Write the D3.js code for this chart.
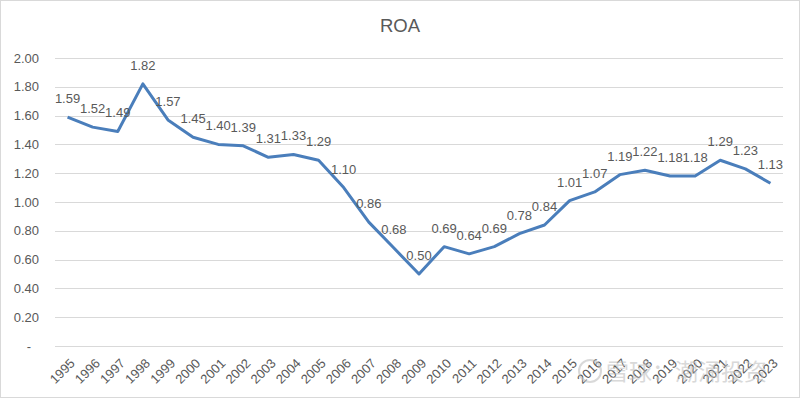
<!DOCTYPE html>
<html><head><meta charset="utf-8">
<script src="https://cdn.jsdelivr.net/npm/d3@7"></script>
<style>html,body{margin:0;padding:0;background:#fff;}svg{display:block;}</style>
</head><body>
<svg id="c" width="800" height="398"></svg>
<script>
const years = ["1995","1996","1997","1998","1999","2000","2001","2002","2003","2004","2005","2006","2007","2008","2009","2010","2011","2012","2013","2014","2015","2016","2017","2018","2019","2020","2021","2022","2023"];
const roa = [1.59,1.52,1.49,1.82,1.57,1.45,1.40,1.39,1.31,1.33,1.29,1.10,0.86,0.68,0.50,0.69,0.64,0.69,0.78,0.84,1.01,1.07,1.19,1.22,1.18,1.18,1.29,1.23,1.13];
const yTicks = [0,0.2,0.4,0.6,0.8,1.0,1.2,1.4,1.6,1.8,2.0];
const title = "ROA";

const svg = d3.select("#c");
const W = 800, H = 398;
const m = {left:55, right:17, top:58, bottom:52};
const font = "'Liberation Sans', Arial, sans-serif";
const txt = "#595959";

svg.append("rect").attr("x",0.5).attr("y",0.5).attr("width",W-1).attr("height",H-1)
  .attr("fill","#fff").attr("stroke","#d9d9d9");

const x = d3.scaleBand().domain(years).range([m.left, W-m.right]);
const y = d3.scaleLinear().domain([0,2]).range([H-m.bottom, m.top]);

// gridlines
svg.append("g").selectAll("line").data(yTicks).join("line")
  .attr("x1",m.left).attr("x2",W-m.right)
  .attr("y1",d=>Math.round(y(d))+0.5).attr("y2",d=>Math.round(y(d))+0.5)
  .attr("stroke","#d9d9d9").attr("stroke-width",1);

// y axis
const ya = svg.append("g").attr("transform",`translate(${m.left},0)`)
  .call(d3.axisLeft(y).tickValues(yTicks).tickSize(0).tickPadding(16)
    .tickFormat(d=> d===0 ? "-" : d.toFixed(2)));
ya.select(".domain").remove();
ya.selectAll("text").attr("font-family",font).attr("font-size",13).attr("fill",txt);
ya.selectAll(".tick").filter(d=>d===0).select("text").attr("dx",-8);

// x axis
const xa = svg.append("g").attr("transform",`translate(0,${H-m.bottom})`)
  .call(d3.axisBottom(x).tickSize(0));
xa.select(".domain").remove();
xa.selectAll("text").attr("font-family",font).attr("font-size",13).attr("fill",txt)
  .attr("text-anchor","end").attr("dy",0)
  .attr("transform","translate(6,16) rotate(-45)");

// line
const line = d3.line().x((d,i)=>x(years[i])+x.bandwidth()/2).y(d=>y(d));
svg.append("path").datum(roa).attr("d",line).attr("fill","none")
  .attr("stroke","#4a7ebb").attr("stroke-width",3).attr("stroke-linejoin","round");

// labels
svg.append("g").selectAll("text").data(roa).join("text")
  .attr("x",(d,i)=>x(years[i])+x.bandwidth()/2)
  .attr("y",d=>y(d)-14)
  .attr("text-anchor","middle")
  .attr("font-family",font).attr("font-size",13).attr("fill",txt)
  .text(d=>d.toFixed(2));

// title
svg.append("text").attr("x",W/2).attr("y",32).attr("text-anchor","middle")
  .attr("font-family",font).attr("font-size",18.5).attr("fill",txt).text(title);

// watermark
const wm = svg.append("g").attr("opacity",0.55);
wm.append("circle").attr("cx",590).attr("cy",371).attr("r",11).attr("fill","none").attr("stroke","#bbb").attr("stroke-width",2);
wm.append("text").attr("x",606).attr("y",380).attr("font-family","'Noto Sans CJK SC', sans-serif")
  .attr("font-size",23).attr("fill","#bbb").text("雪球：潮涌投资");
</script>
</body></html>
